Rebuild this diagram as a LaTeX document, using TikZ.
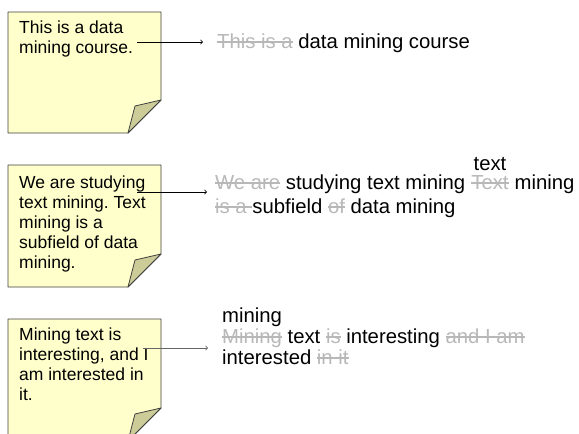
\documentclass[tikz,border=0pt]{standalone}
\usepackage{fontspec}
\setmainfont{Liberation Sans}
\usetikzlibrary{arrows, positioning, calc}

\definecolor{notefill}{RGB}{255,255,204}
\definecolor{foldfill}{RGB}{204,204,153}
\definecolor{struck}{RGB}{184,184,184}

\newlength\strklen
\newcommand\strike[1]{{\color{struck}\settowidth\strklen{#1}\rlap{\rule[0.26em]{\strklen}{0.065em}}#1}}
\frenchspacing

\begin{document}
\begin{tikzpicture}[x=1pt,y=-1pt,
  note/.style={draw=black!75, line width=0.8pt, fill=notefill, line join=round},
  fold/.style={draw=black!75, line width=0.8pt, fill=foldfill, line join=round},
  notetext/.style={font=\fontsize{17.5}{20}\selectfont, align=left, anchor=north west, inner sep=0},
  row/.style={font=\fontsize{20.3}{24}\selectfont, anchor=base west, inner sep=0},
  link/.style={->, line width=0.8pt}]
\clip (0,0) rectangle (579,434);
% sticky notes, bottom right corner folded
\foreach \t / \b in {12/133, 165/287, 319/441} {
\draw[note] (8,\t) -- (161,\t) -- (161,\b-33) -- (128,\b) -- (8,\b) -- cycle;
\draw[fold] (161,\b-33) -- (135,\b-27) -- (128,\b) -- cycle;
}
\node[notetext] (n1) at (19,20.5) {This is a data\\mining course.};
\node[notetext] (n2) at (19,175.5) {We are studying\\text mining. Text\\mining is a\\subfield of data\\mining.};
\node[notetext] (n3) at (19,328) {Mining text is\\interesting, and I\\am interested in\\it.};
% reduced sentences
\node[row] (r1) at (217,48) {\strike{This is a} data mining course};
\node[row] (r2a) at (215,189) {\strike{We are} studying text mining};
\node[row] (r2b) at ([xshift=5.64]r2a.base east) {\strike{Text}};
\node[row] (r2c) at ([xshift=5.64]r2b.base east) {mining};
\node[row, anchor=base] (r2t) at ([yshift=19]r2b.base) {text};
\node[row] (r2d) at (215,213) {\strike{is a }subfield \strike{of} data mining};
\node[row] (r3a) at (222,343) {\strike{Mining} text \strike{is} interesting \strike{and I am}};
\node[row] (r3t) at ([yshift=21]r3a.base west) {mining};
\node[row] (r3b) at (222,364) {interested \strike{in it}};
% arrows
\coordinate (s1) at (137,42);  \coordinate (e1) at (203,42);
\coordinate (s2) at (137,192); \coordinate (e2) at (207,192);
\coordinate (s3) at (143,348); \coordinate (e3) at (208,348);
\draw[link] (s1) -- (e1);
\draw[link] (s2) -- (e2);
\draw[link, black!60] (s3) -- (e3);
\end{tikzpicture}
\end{document}
